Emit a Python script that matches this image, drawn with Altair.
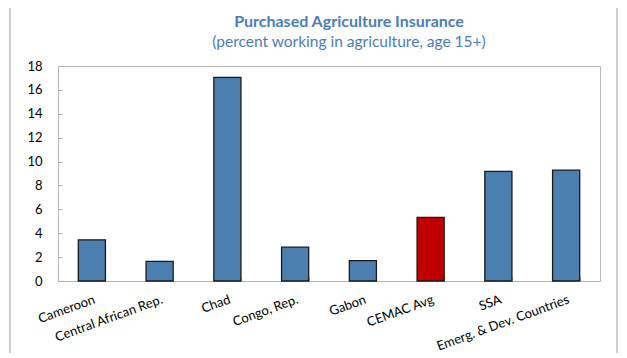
import altair as alt
import pandas as pd

categories = ["Cameroon", "Central African Rep.", "Chad", "Congo, Rep.", "Gabon",
              "CEMAC Avg", "SSA", "Emerg. & Dev. Countries"]
values = [3.45, 1.65, 17.05, 2.83, 1.7, 5.32, 9.18, 9.28]
groups = ["country"] * 5 + ["cemac"] + ["comparator"] * 2

df = pd.DataFrame({"category": categories, "value": values, "group": groups})

FONT = "Lato"
W, H = 542, 215

bars = alt.Chart(df).mark_bar(stroke="#1a1a1a", strokeWidth=1.3).encode(
    x=alt.X("category:N", sort=categories, title=None,
            scale=alt.Scale(paddingInner=0.6, paddingOuter=0.3),
            axis=alt.Axis(labelAngle=-20, labelAlign="right", labelBaseline="top",
                          labelFont=FONT, labelFontSize=13, labelColor="#000000",
                          labelPadding=12, tickBand="extent", tickSize=4,
                          tickColor="#b0b0b0", offset=-4, domain=False,
                          labelOverlap=False)),
    y=alt.Y("value:Q", title=None,
            scale=alt.Scale(domain=[0, 18], nice=False),
            axis=alt.Axis(values=list(range(0, 19, 2)), grid=False,
                          labelFont=FONT, labelFontSize=13, labelColor="#000000",
                          labelPadding=16, tickSize=4, tickColor="#b0b0b0",
                          offset=-4, domain=False)),
    color=alt.Color("group:N", legend=None,
                    scale=alt.Scale(domain=["country", "cemac", "comparator"],
                                    range=["#4a7fb0", "#c00000", "#4a7fb0"])),
)

frame = alt.Chart(df).mark_rect(fill=None, stroke="#d0d0d0", strokeWidth=1.5).encode(
    x=alt.value(-48), x2=alt.value(559), y=alt.value(-60), y2=alt.value(300)
)

chart = alt.layer(frame, bars).properties(
    width=W, height=H,
    title=alt.TitleParams(
        text="Purchased Agriculture Insurance",
        subtitle="(percent working in agriculture, age 15+)",
        font=FONT, fontSize=16, fontWeight="bold", color="#4a7ebb",
        subtitleFont=FONT, subtitleFontSize=15.5, subtitleColor="#4a7ebb",
        subtitlePadding=5, anchor="middle", dx=20, dy=45, offset=0, frame="group",
    ),
    autosize=alt.AutoSizeParams(type="none"),
    padding={"left": 50, "top": 58, "right": 19, "bottom": 72},
).configure_view(stroke="#b8b8b8", strokeWidth=1)

chart.save("out.html", embed_options={"renderer": "svg", "actions": False})
